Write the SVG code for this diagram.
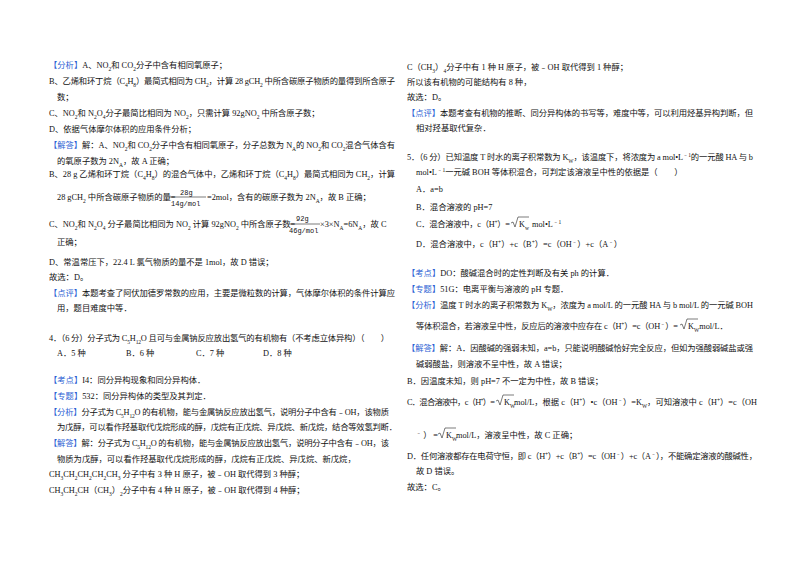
<svg xmlns="http://www.w3.org/2000/svg" width="800" height="565" viewBox="0 0 800 565">
<style>
text{font-family:"Liberation Serif","Noto Sans CJK SC",serif;font-size:8.3px;fill:#111}
.b{fill:#2c5fd4}
.s{font-size:5.5px;baseline-shift:sub}
.p{font-size:5.5px;baseline-shift:super}
.f{font-size:7px;font-family:"Liberation Mono",monospace}
line{stroke:#222;stroke-width:0.6}
.r{fill:none;stroke:#222;stroke-width:0.6}
</style>
<rect width="800" height="565" fill="#fff"/>
<g id="left">
<text x="49" y="68"><tspan class="b">【分析】</tspan>A、NO<tspan class="s">2</tspan>和 CO<tspan class="s">2</tspan>分子中含有相同氧原子；</text>
<text x="49" y="84" textLength="346">B、乙烯和环丁烷（C<tspan class="s">4</tspan>H<tspan class="s">8</tspan>）最简式相同为 CH<tspan class="s">2</tspan>，计算 28 gCH<tspan class="s">2</tspan> 中所含碳原子物质的量得到所含原子</text>
<text x="57" y="100">数；</text>
<text x="49" y="116">C、NO<tspan class="s">2</tspan>和 N<tspan class="s">2</tspan>O<tspan class="s">4</tspan>分子最简比相同为 NO<tspan class="s">2</tspan>，只需计算 92gNO<tspan class="s">2</tspan> 中所含原子数；</text>
<text x="49" y="132">D、依据气体摩尔体积的应用条件分析；</text>
<text x="49" y="148" textLength="346"><tspan class="b">【解答】</tspan>解：A、NO<tspan class="s">2</tspan>和 CO<tspan class="s">2</tspan>分子中含有相同氧原子，分子总数为 N<tspan class="s">A</tspan>的 NO<tspan class="s">2</tspan>和 CO<tspan class="s">2</tspan>混合气体含有</text>
<text x="57" y="164">的氧原子数为 2N<tspan class="s">A</tspan>，故 A 正确；</text>
<text x="49" y="177" textLength="346">B、28 g 乙烯和环丁烷（C<tspan class="s">4</tspan>H<tspan class="s">8</tspan>）的混合气体中，乙烯和环丁烷（C<tspan class="s">4</tspan>H<tspan class="s">8</tspan>）最简式相同为 CH<tspan class="s">2</tspan>，计算</text>
<text x="57" y="200">28 gCH<tspan class="s">2</tspan> 中所含碳原子物质的量=</text>
<text x="180" y="195" class="f">28g</text>
<line x1="169" y1="197" x2="206" y2="197"/>
<text x="171" y="206" class="f">14g/mol</text>
<text x="207" y="200">=2mol，含有的碳原子数为 2N<tspan class="s">A</tspan>，故 B 正确；</text>
<text x="49" y="227">C、NO<tspan class="s">2</tspan>和 N<tspan class="s">2</tspan>O<tspan class="s">4</tspan> 分子最简比相同为 NO<tspan class="s">2</tspan> 计算 92gNO<tspan class="s">2</tspan> 中所含原子数=</text>
<text x="296" y="221" class="f">92g</text>
<line x1="289" y1="224" x2="320" y2="224"/>
<text x="289" y="233" class="f">46g/mol</text>
<text x="320" y="227">×3×N<tspan class="s">A</tspan>=6N<tspan class="s">A</tspan>，故 C</text>
<text x="57" y="245">正确；</text>
<text x="49" y="265">D、常温常压下，22.4 L 氯气物质的量不是 1mol，故 D 错误；</text>
<text x="49" y="280">故选：D。</text>
<text x="49" y="296" textLength="346"><tspan class="b">【点评】</tspan>本题考查了阿伏加德罗常数的应用，主要是微粒数的计算，气体摩尔体积的条件计算应</text>
<text x="57" y="311">用，题目难度中等．</text>
<text x="49" y="341" textLength="340">4．（6 分）分子式为 C<tspan class="s">5</tspan>H<tspan class="s">12</tspan>O 且可与金属钠反应放出氢气的有机物有（不考虑立体异构）（　　）</text>
<text x="57" y="356">A．5 种</text>
<text x="126" y="356">B．6 种</text>
<text x="196" y="356">C．7 种</text>
<text x="263" y="356">D．8 种</text>
<text x="49" y="383"><tspan class="b">【考点】</tspan>I4：同分异构现象和同分异构体．</text>
<text x="49" y="399"><tspan class="b">【专题】</tspan>532：同分异构体的类型及其判定．</text>
<text x="49" y="415" textLength="340"><tspan class="b">【分析】</tspan>分子式为 C<tspan class="s">5</tspan>H<tspan class="s">12</tspan>O 的有机物，能与金属钠反应放出氢气，说明分子中含有﹣OH，该物质</text>
<text x="57" y="430" textLength="340">为戊醇，可以看作羟基取代戊烷形成的醇，戊烷有正戊烷、异戊烷、新戊烷，结合等效氢判断．</text>
<text x="49" y="446" textLength="340"><tspan class="b">【解答】</tspan>解：分子式为 C<tspan class="s">5</tspan>H<tspan class="s">12</tspan>O 的有机物，能与金属钠反应放出氢气，说明分子中含有﹣OH，该</text>
<text x="57" y="462">物质为戊醇，可以看作羟基取代戊烷形成的醇，戊烷有正戊烷、异戊烷、新戊烷，</text>
<text x="49" y="477">CH<tspan class="s">3</tspan>CH<tspan class="s">2</tspan>CH<tspan class="s">2</tspan>CH<tspan class="s">2</tspan>CH<tspan class="s">3</tspan> 分子中有 3 种 H 原子，被﹣OH 取代得到 3 种醇；</text>
<text x="49" y="493">CH<tspan class="s">3</tspan>CH<tspan class="s">2</tspan>CH（CH<tspan class="s">3</tspan>）<tspan class="s">2</tspan>分子中有 4 种 H 原子，被﹣OH 取代得到 4 种醇；</text>
</g>
<g id="right">
<text x="407" y="70">C（CH<tspan class="s">3</tspan>）<tspan class="s">4</tspan>分子中有 1 种 H 原子，被﹣OH 取代得到 1 种醇；</text>
<text x="407" y="85">所以该有机物的可能结构有 8 种，</text>
<text x="407" y="100">故选：D。</text>
<text x="407" y="116" textLength="346"><tspan class="b">【点评】</tspan>本题考查有机物的推断、同分异构体的书写等，难度中等，可以利用烃基异构判断，但</text>
<text x="416" y="131">相对羟基取代复杂．</text>
<text x="407" y="160" textLength="346">5．（6 分）已知温度 T 时水的离子积常数为 K<tspan class="s">W</tspan>，该温度下，将浓度为 a mol•L<tspan class="p">﹣1</tspan>的一元酸 HA 与 b</text>
<text x="416" y="175">mol•L<tspan class="p">﹣1</tspan>一元碱 BOH 等体积混合，可判定该溶液呈中性的依据是（　　）</text>
<text x="416" y="192">A．a=b</text>
<text x="416" y="210">B．混合溶液的 pH=7</text>
<text x="416" y="227" textLength="94">C．混合溶液中，c（H<tspan class="p">+</tspan>）=</text>
<path d="M511 223 l2 -1 l2 5 l3 -10 h11" class="r"/>
<text x="519" y="227">K<tspan class="s">w</tspan></text>
<text x="532" y="227">mol•L<tspan class="p">﹣1</tspan></text>
<text x="416" y="247">D．混合溶液中，c（H<tspan class="p">+</tspan>）+c（B<tspan class="p">+</tspan>）=c（OH<tspan class="p">﹣</tspan>）+c（A<tspan class="p">﹣</tspan>）</text>
<text x="407" y="276"><tspan class="b">【考点】</tspan>DO：酸碱混合时的定性判断及有关 ph 的计算．</text>
<text x="407" y="292"><tspan class="b">【专题】</tspan>51G：电离平衡与溶液的 pH 专题．</text>
<text x="407" y="308" textLength="346"><tspan class="b">【分析】</tspan>温度 T 时水的离子积常数为 K<tspan class="s">W</tspan>，浓度为 a mol/L 的一元酸 HA 与 b mol/L 的一元碱 BOH</text>
<text x="416" y="329" textLength="262">等体积混合，若溶液呈中性，反应后的溶液中应存在 c（H<tspan class="p">+</tspan>）=c（OH<tspan class="p">﹣</tspan>）=</text>
<path d="M680 325 l2 -1 l2 5 l3 -10 h11" class="r"/>
<text x="688" y="329">K<tspan class="s">W</tspan>mol/L．</text>
<text x="407" y="351" textLength="346"><tspan class="b">【解答】</tspan>解：A．因酸碱的强弱未知，a=b，只能说明酸碱恰好完全反应，但如为强酸弱碱盐或强</text>
<text x="416" y="367">碱弱酸盐，则溶液不呈中性，故 A 错误；</text>
<text x="407" y="384">B．因温度未知，则 pH=7 不一定为中性，故 B 错误；</text>
<text x="407" y="405" textLength="88">C．混合溶液中，c（H<tspan class="p">+</tspan>）=</text>
<path d="M496 401 l2 -1 l2 5 l3 -10 h11" class="r"/>
<text x="504" y="405">K<tspan class="s">W</tspan></text>
<text x="514" y="405" textLength="243">mol/L，根据 c（H<tspan class="p">+</tspan>）•c（OH<tspan class="p">﹣</tspan>）=K<tspan class="s">W</tspan>，可知溶液中 c（H<tspan class="p">+</tspan>）=c（OH</text>
<text x="416" y="438" textLength="22"><tspan class="p">﹣</tspan>）=</text>
<path d="M438 434 l2 -1 l2 5 l3 -10 h11" class="r"/>
<text x="446" y="438">K<tspan class="s">W</tspan></text>
<text x="456" y="438">mol/L，溶液呈中性，故 C 正确；</text>
<text x="407" y="459" textLength="350">D．任何溶液都存在电荷守恒，即 c（H<tspan class="p">+</tspan>）+c（B<tspan class="p">+</tspan>）=c（OH<tspan class="p">﹣</tspan>）+c（A<tspan class="p">﹣</tspan>），不能确定溶液的酸碱性，</text>
<text x="416" y="474">故 D 错误。</text>
<text x="407" y="490">故选：C。</text>
</g>
</svg>
